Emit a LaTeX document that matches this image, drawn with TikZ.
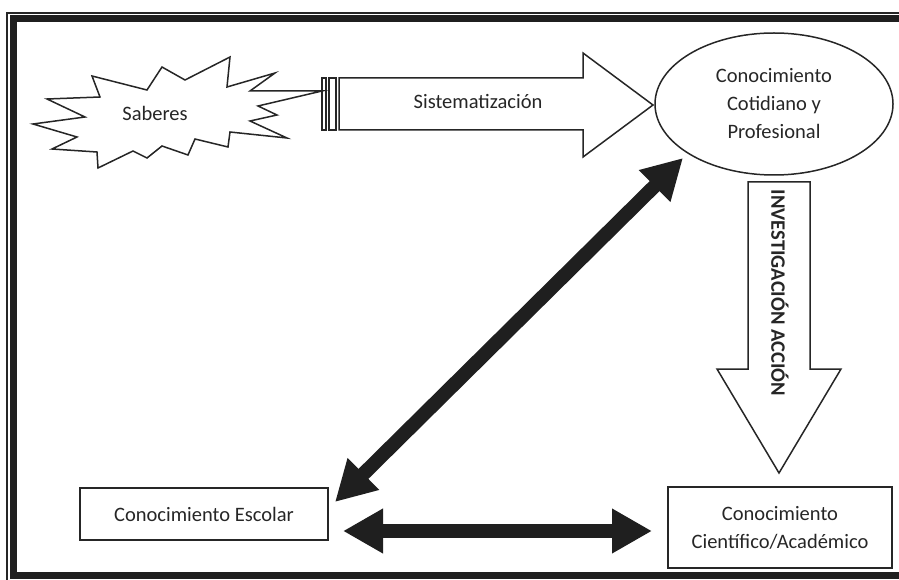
\documentclass[tikz,border=0pt]{standalone}
\usepackage{fontspec}
\setmainfont{Carlito}
\usetikzlibrary{arrows.meta,shapes.geometric}
\begin{document}
\begin{tikzpicture}[x=1pt,y=-1pt,
  outline/.style={draw=black!85,line width=1.5pt,line join=miter},
  label/.style={font=\fontsize{20.5}{28}\selectfont,text=black!85,align=center,inner sep=0pt},
  boxnode/.style={outline,label,rectangle},
  biarrow/.style={line width=14pt,draw=black!88,
    {Triangle[length=40pt,width=42pt]}-{Triangle[length=40pt,width=42pt]}}
]
\useasboundingbox (0,0) rectangle (899,580);

% double frame: left, top and lower edges only
\draw[black!85,line width=2pt] (7,580) -- (7,13) -- (899,13);
\draw[black!88,line width=7pt,line join=miter] (899,575.5) -- (13,575.5) -- (13,18.5) -- (899,18.5);

% burst around "Saberes"
\draw[outline,fill=white] (47,99) -- (100,97) -- (92,76) -- (147,90) -- (162,67) -- (185,80)
  -- (230,57) -- (227,87) -- (275,73) -- (250,91) -- (322,91) -- (258,106) -- (277,115)
  -- (250,121) -- (287,138) -- (230,132) -- (228,147) -- (195,139) -- (188,155)
  -- (162,146) -- (147,158) -- (133,151) -- (98,168) -- (97,152) -- (52,149)
  -- (77,137) -- (33,124) -- (85,117) -- cycle;
\node[label] (saberes) at (155,113) {Saberes};

% block arrow with striped tail
\draw[outline] (322,78) rectangle (326,130);
\draw[outline] (329,78) rectangle (336,130);
\draw[outline,fill=white] (339,78) -- (583,78) -- (583,53) -- (653,105) -- (583,157)
  -- (583,130) -- (339,130) -- cycle;
\node[label] (sist) at (478,101) {Sistematización};

% knowledge nodes
\node[outline,label,ellipse,minimum width=238pt,minimum height=142pt] (cot) at (774,104)
  {Conocimiento\\Cotidiano y\\Profesional};
\node[boxnode,minimum width=248pt,minimum height=52pt] (escolar) at (204,514)
  {Conocimiento Escolar};
\node[boxnode,minimum width=224pt,minimum height=81pt] (cientifico) at (780,527.5)
  {Conocimiento\\Científico/Académico};

% downward block arrow
\draw[outline,fill=white] (748,182) -- (810,182) -- (810,369) -- (841,369) -- (779,473)
  -- (717,369) -- (748,369) -- cycle;
\node[label,font=\fontsize{20.5}{28}\selectfont\bfseries,rotate=-90] (ia) at (780,293)
  {INVESTIGACIÓN ACCIÓN};

% two-way links
\coordinate (d1) at (335,502);
\coordinate (d2) at (683,158);
\coordinate (h1) at (343,531);
\coordinate (h2) at (652,531);
\draw[biarrow] (d1) -- (d2);
\draw[biarrow] (h1) -- (h2);
\end{tikzpicture}
\end{document}
